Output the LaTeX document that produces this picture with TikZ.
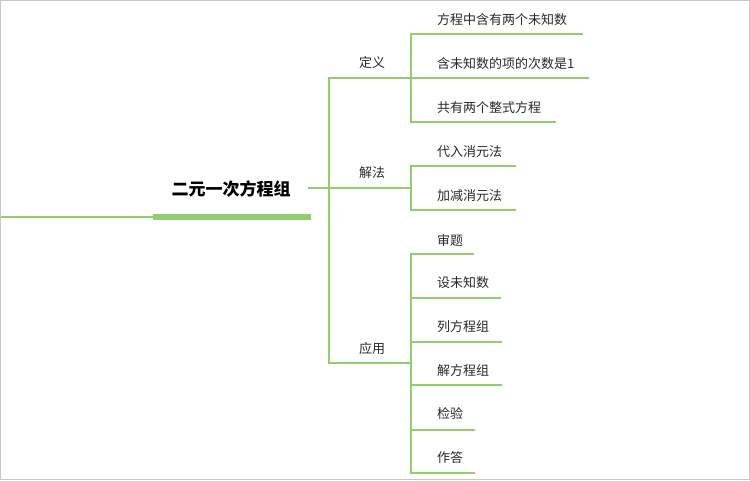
\documentclass[tikz,border=0pt]{standalone}
\usepackage{fontspec}
\newfontfamily\cjk{Noto Sans CJK SC}
\definecolor{lg}{RGB}{146,206,112}
\definecolor{txt}{RGB}{40,40,40}
\definecolor{frame}{RGB}{200,200,200}
\begin{document}
\begin{tikzpicture}[x=1pt,y=-1pt,
  ln/.style={draw=lg, line width=1.5pt},
  bar/.style={draw=lg, line width=6.5pt},
  leaf/.style={anchor=west, inner sep=0pt, text=txt, font=\cjk\fontsize{13}{13}\selectfont},
  blabel/.style={inner sep=0pt, text=txt, font=\cjk\fontsize{13}{13}\selectfont},
  rootlabel/.style={inner sep=0pt, text=black, font=\cjk\bfseries\fontsize{17}{17}\selectfont}]
\useasboundingbox (0,0) rectangle (750,480);
\draw[frame, line width=1pt] (0.5,0.5) rectangle (749.5,479.5);
% root
\node[rootlabel] (root) at (231,189) {二元一次方程组};
\coordinate (lstart) at (1,217);
\coordinate (barL) at (153,217);
\coordinate (barR) at (311,217);
\coordinate (rout) at (308,188);
\coordinate (trunk) at (329,188);
\draw[ln] (lstart) -- (barL);
\draw[bar] (barL) -- (barR);
\draw[ln] (rout) -- (trunk);
% branches
\coordinate (b1) at (411,78);
\coordinate (b2) at (411,188);
\coordinate (b3) at (411,363);
\draw[ln] (trunk) |- (b1);
\draw[ln] (trunk) -- (b2);
\draw[ln] (trunk) |- (b3);
\node[blabel] (l1) at (372,63) {定义};
\node[blabel] (l2) at (372,173) {解法};
\node[blabel] (l3) at (372,349) {应用};
% leaves of 定义
\node[leaf] (a1) at (437,20) {方程中含有两个未知数};
\node[leaf] (a2) at (437,64) {含未知数的项的次数是1};
\node[leaf] (a3) at (437,108) {共有两个整式方程};
\coordinate (ae1) at (583,34);
\coordinate (ae2) at (589,78);
\coordinate (ae3) at (556,122);
\draw[ln] (b1) |- (ae1);
\draw[ln] (b1) -- (ae2);
\draw[ln] (b1) |- (ae3);
% leaves of 解法
\node[leaf] (c1) at (437,152) {代入消元法};
\node[leaf] (c2) at (437,196) {加减消元法};
\coordinate (ce1) at (516,166);
\coordinate (ce2) at (516,210);
\draw[ln] (b2) |- (ce1);
\draw[ln] (b2) |- (ce2);
% leaves of 应用
\node[leaf] (d1) at (437,240) {审题};
\node[leaf] (d2) at (437,283) {设未知数};
\node[leaf] (d3) at (437,327) {列方程组};
\node[leaf] (d4) at (437,371) {解方程组};
\node[leaf] (d5) at (437,414) {检验};
\node[leaf] (d6) at (437,458) {作答};
\coordinate (de1) at (474,254);
\coordinate (de2) at (501,298);
\coordinate (de3) at (502,342);
\coordinate (de4) at (502,385);
\coordinate (de5) at (475,430);
\coordinate (de6) at (475,473);
\draw[ln] (b3) |- (de1);
\draw[ln] (b3) |- (de2);
\draw[ln] (b3) |- (de3);
\draw[ln] (b3) |- (de4);
\draw[ln] (b3) |- (de5);
\draw[ln] (b3) |- (de6);
\end{tikzpicture}
\end{document}
